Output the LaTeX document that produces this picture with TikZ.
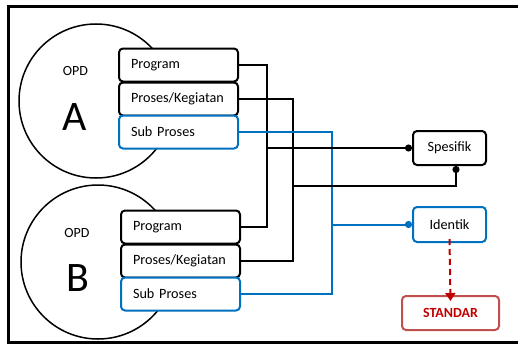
\documentclass[tikz,border=0pt]{standalone}
\usepackage{fontspec}
\setmainfont{Carlito}
\usetikzlibrary{arrows.meta}
\definecolor{mblue}{HTML}{0070C0}
\definecolor{mred}{HTML}{C00000}
\definecolor{lred}{HTML}{C0504D}
\begin{document}
\begin{tikzpicture}[x=1pt,y=-1pt,
  opd/.style={circle,draw=black,line width=1.5pt,minimum size=154pt,inner sep=0pt},
  item/.style={draw=black,fill=white,line width=2pt,rounded corners=4pt,minimum width=119pt,minimum height=33pt,
    text width=95pt,align=left,inner xsep=12pt,font=\fontsize{14.2}{16}\selectfont},
  bitem/.style={item,draw=mblue},
  res/.style={draw=black,fill=white,line width=2pt,rounded corners=4pt,minimum width=73pt,minimum height=34pt,
    font=\fontsize{14.2}{16}\selectfont},
  conn/.style={line width=2pt},
  dotend/.style={conn,-{Circle[length=7pt,width=7pt]}}]
\useasboundingbox (0,0) rectangle (518,345);
\draw[line width=3pt] (525,7) -- (8.5,7) -- (8.5,342) -- (525,342);
% circles
\node[opd] (ca) at (96,101) {};
\node[opd] (cb) at (98,262) {};
\node[font=\fontsize{14}{16}\selectfont] (opda) at (75.5,71) {OPD};
\node[font=\fontsize{42}{46}\selectfont] (la) at (75,117) {A};
\node[font=\fontsize{14}{16}\selectfont] (opdb) at (77,233) {OPD};
\node[font=\fontsize{42}{46}\selectfont] (lb) at (78,278) {B};
% boxes A
\node[item] (pa) at (178.5,65) {Program};
\node[item] (ka) at (178.5,99) {Proses/Kegiatan};
\node[bitem] (sa) at (178.5,132) {Sub Proses};
% boxes B
\node[item] (pb) at (180.5,227) {Program};
\node[item] (kb) at (180.5,261) {Proses/Kegiatan};
\node[bitem] (sb) at (180.5,294) {Sub Proses};
% right nodes
\node[res] (sp) at (449.5,148) {Spesifik};
\node[res,draw=mblue,minimum height=35pt] (id) at (449.5,224.5) {Identik};
\node[res,draw=lred,minimum width=97pt,text=mred,font=\fontsize{14}{16}\selectfont\bfseries] (st) at (450.5,313) {STANDAR};
% connectors
\coordinate (xa) at (267,0);
\coordinate (xk) at (293,0);
\coordinate (xs) at (332,0);
\draw[conn] (pa.east) -- (pa.east -| xa) -- (pb.east -| xa) -- (pb.east);
\draw[conn] (ka.east) -- (ka.east -| xk) -- (kb.east -| xk) -- (kb.east);
\draw[conn,mblue] (sa.east) -- (sa.east -| xs) -- (sb.east -| xs) -- (sb.east);
\draw[dotend] (sp.west -| xa) -- (sp.west);
\coordinate (spb) at ([xshift=6.5pt]sp.south);
\coordinate (y2) at (0,186);
\draw[dotend] (y2 -| xk) -- (y2 -| spb) -- (spb);
\draw[dotend,mblue,{Circle[length=7pt,width=7pt]}-] (id.west) -- (id.west -| xs);
\draw[conn,mred,dashed,dash pattern=on 6pt off 4pt,-{Triangle[length=8pt,width=10pt]}] ([yshift=4pt]id.south) -- ([yshift=-6pt]st.north);
\end{tikzpicture}
\end{document}
